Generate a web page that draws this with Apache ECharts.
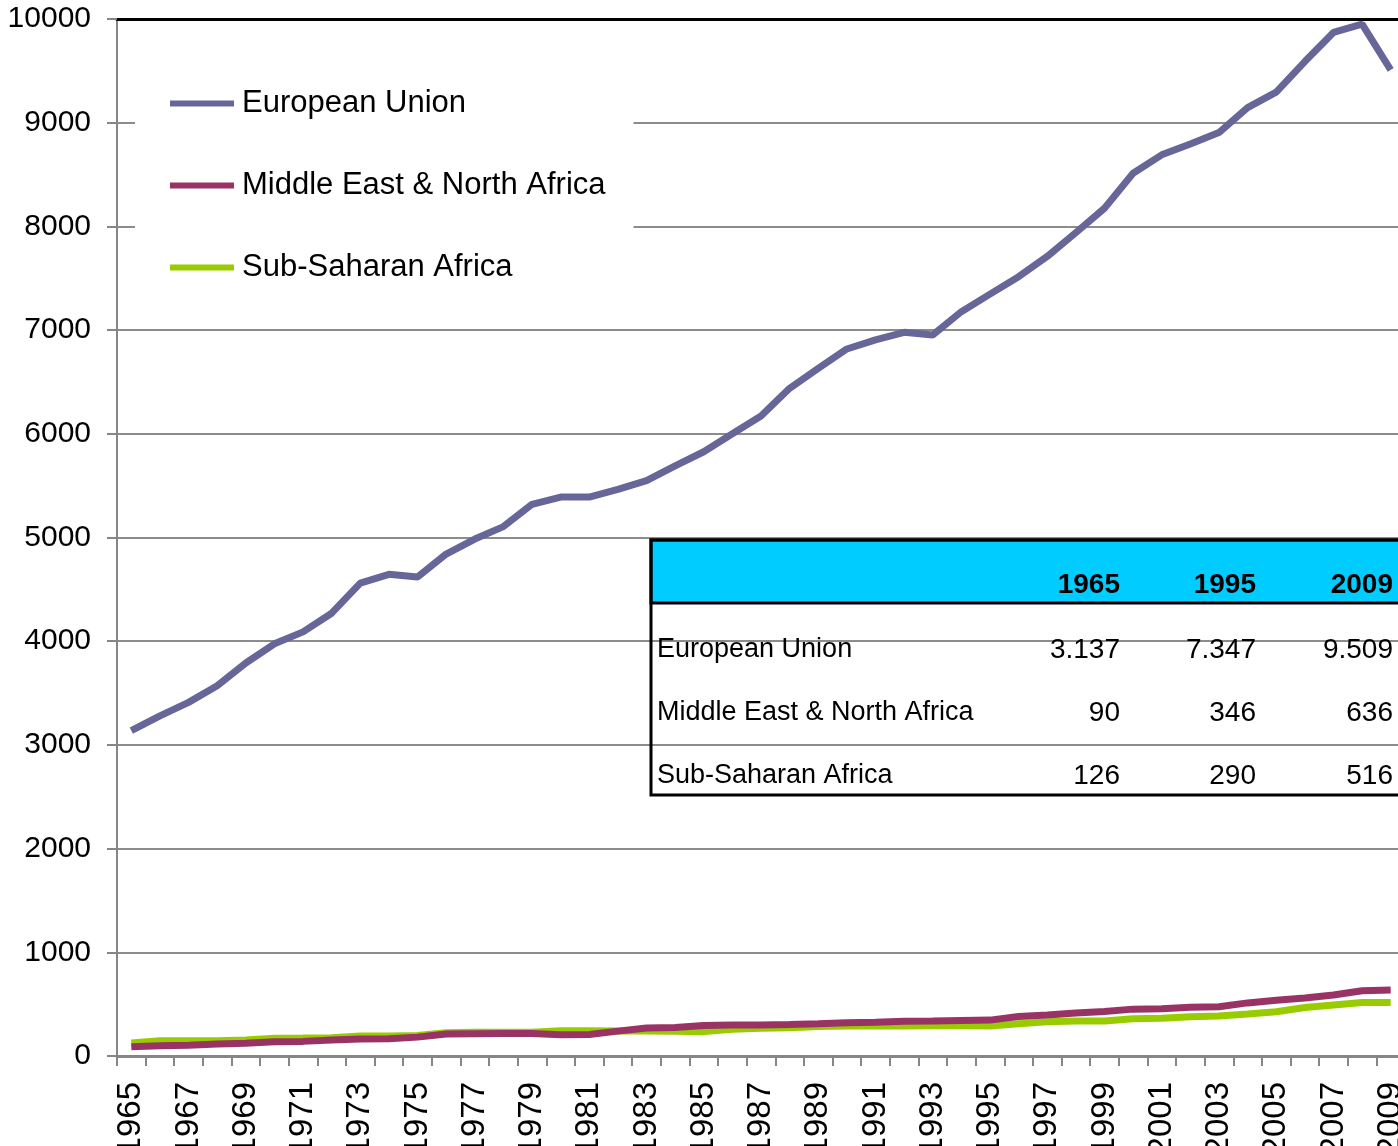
<!DOCTYPE html>
<html>
<head>
<meta charset="utf-8">
<script src="https://cdn.jsdelivr.net/npm/echarts@6/dist/echarts.min.js"></script>
<style>
  html, body { margin: 0; padding: 0; background: #fff; }
  #chart { width: 1398px; height: 1146px; }
</style>
</head>
<body>
<div id="chart"></div>
<script>
const years = ['1965', '1966', '1967', '1968', '1969', '1970', '1971', '1972', '1973', '1974',
  '1975', '1976', '1977', '1978', '1979', '1980', '1981', '1982', '1983', '1984',
  '1985', '1986', '1987', '1988', '1989', '1990', '1991', '1992', '1993', '1994',
  '1995', '1996', '1997', '1998', '1999', '2000', '2001', '2002', '2003', '2004',
  '2005', '2006', '2007', '2008', '2009'];

const europeanUnion = [3137, 3280, 3410, 3570, 3790, 3975, 4090, 4270, 4560, 4645,
  4620, 4840, 4985, 5105, 5320, 5390, 5390, 5465, 5548, 5690,
  5827, 6000, 6172, 6439, 6630, 6818, 6905, 6979, 6953, 7178,
  7347, 7515, 7710, 7940, 8175, 8512, 8690, 8795, 8905, 9145,
  9295, 9590, 9870, 9950, 9509];

const middleEastNorthAfrica = [90, 100, 103, 115, 122, 138, 141, 154, 164, 166,
  182, 212, 215, 217, 218, 205, 208, 240, 270, 275,
  295, 298, 300, 303, 310, 320, 325, 335, 338, 342,
  346, 380, 395, 415, 430, 452, 455, 470, 475, 512,
  538, 560, 588, 630, 636];

const subSaharanAfrica = [126, 148, 148, 148, 154, 172, 173, 175, 192, 193,
  198, 225, 228, 228, 228, 244, 244, 242, 241, 238,
  235, 258, 267, 272, 285, 290, 290, 290, 292, 292,
  290, 312, 330, 337, 337, 360, 363, 378, 385, 405,
  427, 468, 492, 516, 516];

const seriesNames = ['European Union', 'Middle East & North Africa', 'Sub-Saharan Africa'];
const seriesColors = ['#666699', '#993366', '#99CC00'];

const tableYears = ['1965', '1995', '2009'];
const tableRowNames = ['European Union', 'Middle East & North Africa', 'Sub-Saharan Africa'];
const tableValues = [
  ['3.137', '7.347', '9.509'],
  ['90', '346', '636'],
  ['126', '290', '516'],
];

const FONT = '"Liberation Sans", Arial, sans-serif';

// table overlay (layout only)
const tableX = 651;
const tableTop = 540;
const headerH = 63;
const rowYs = [650, 713, 776];
const colRights = [1120, 1256, 1393];
const tableGraphics = [
  {
    type: 'rect',
    shape: { x: tableX, y: tableTop, width: 780, height: headerH },
    style: { fill: '#00CCFF', stroke: '#000', lineWidth: 3 },
    z: 100,
  },
  {
    type: 'rect',
    shape: { x: tableX, y: tableTop, width: 780, height: 795 - tableTop },
    style: { fill: 'none', stroke: '#000', lineWidth: 3 },
    z: 101,
  },
];
tableYears.forEach((y, i) => {
  tableGraphics.push({
    type: 'text',
    x: colRights[i],
    y: tableTop + 45,
    z: 102,
    style: {
      text: y, fill: '#000', font: `bold 28px ${FONT}`,
      align: 'right', verticalAlign: 'middle',
    },
  });
});
tableRowNames.forEach((name, r) => {
  tableGraphics.push({
    type: 'text',
    x: tableX + 6,
    y: rowYs[r],
    z: 102,
    style: {
      text: name, fill: '#000', font: `27px ${FONT}`,
      align: 'left', verticalAlign: 'middle',
    },
  });
  tableValues[r].forEach((v, c) => {
    tableGraphics.push({
      type: 'text',
      x: colRights[c],
      y: rowYs[r],
      z: 102,
      style: {
        text: v, fill: '#000', font: `28px ${FONT}`,
        align: 'right', verticalAlign: 'middle',
      },
    });
  });
});

const seriesData = [europeanUnion, middleEastNorthAfrica, subSaharanAfrica];
const series = seriesNames.map((name, i) => ({
  name,
  type: 'line',
  data: seriesData[i],
  showSymbol: false,
  symbol: 'none',
  z: 3 - i,
  lineStyle: { color: seriesColors[i], width: 7 },
  itemStyle: { color: seriesColors[i] },
  animation: false,
}));

const option = {
  animation: false,
  textStyle: { fontFamily: FONT },
  grid: {
    left: 117,
    width: 1288,
    top: 19,
    height: 1037,
    outerBoundsMode: 'none',
    containLabel: false,
  },
  legend: {
    data: seriesNames,
    orient: 'vertical',
    left: 135,
    top: 45,
    padding: [43, 28, 30, 35],
    itemGap: 51,
    itemWidth: 64,
    itemHeight: 6,
    icon: 'rect',
    backgroundColor: '#fff',
    selectedMode: false,
    textStyle: {
      fontSize: 31,
      lineHeight: 31,
      color: '#000',
      fontFamily: FONT,
      padding: [0, 0, 0, 3],
    },
  },
  xAxis: [
    {
      type: 'category',
      data: years,
      boundaryGap: true,
      axisLine: { lineStyle: { color: '#868686', width: 3 } },
      axisTick: { show: true, interval: 0, length: 10, lineStyle: { color: '#868686', width: 2 } },
      axisLabel: {
        interval: 1,
        rotate: 90,
        margin: 26,
        fontSize: 33,
        color: '#000',
        fontFamily: FONT,
      },
      splitLine: { show: false },
    },
    {
      type: 'category',
      position: 'top',
      data: years,
      axisLine: { show: true, lineStyle: { color: '#000', width: 3 } },
      axisTick: { show: false },
      axisLabel: { show: false },
      splitLine: { show: false },
    },
  ],
  yAxis: {
    type: 'value',
    min: 0,
    max: 10000,
    interval: 1000,
    axisLine: { show: true, lineStyle: { color: '#868686', width: 2 } },
    axisTick: { show: true, length: 10, lineStyle: { color: '#868686', width: 2 } },
    axisLabel: {
      margin: 26,
      fontSize: 30,
      color: '#000',
      fontFamily: FONT,
      formatter: (value) => String(value),
    },
    splitLine: { show: true, lineStyle: { color: '#8C8C8C', width: 2 } },
  },
  graphic: tableGraphics,
  series,
};

const chart = echarts.init(document.getElementById('chart'), null, { renderer: 'canvas' });
chart.setOption(option);
</script>
</body>
</html>
